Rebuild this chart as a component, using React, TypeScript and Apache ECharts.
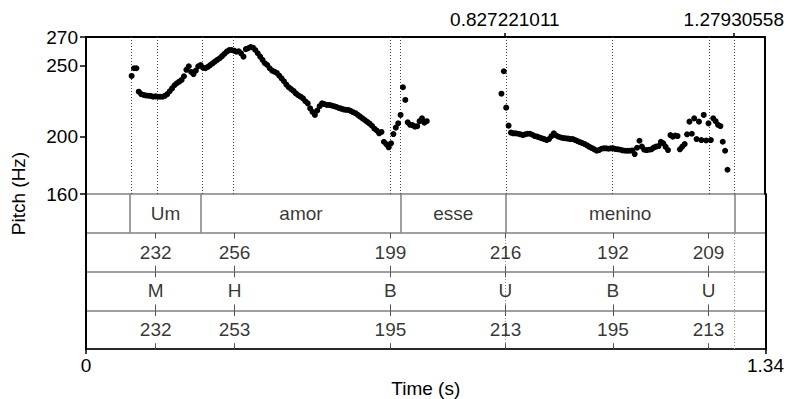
import React, { useEffect, useRef } from "react";
import * as echarts from "echarts";

// ---- data ----
const TIME_MIN = 0;
const TIME_MAX = 1.34;
const PITCH_MIN = 160;
const PITCH_MAX = 270;
const PITCH_TICKS = [160, 200, 250, 270];
const TIME_TICKS = [0, 1.34];
const SELECTION_TIMES = [0.827221011, 1.27930558];

// pitch frames (Praat analysis step)
const FRAME_STEP = 0.0047;
const SEG_A_START = 0.0901;
const SEG_A_HZ = [
  242.7, 248.1, 248.1, 231.7, 230.0, 229.4, 229.0, 228.9, 228.7, 228.2,
  228.4, 228.2, 228.2, 228.2, 228.8, 230.0, 232.0, 234.0, 236.2, 237.6,
  238.7, 239.9, 242.5, 247.0, 249.5, 245.5, 244.0, 246.5, 249.5, 250.4,
  248.5, 248.1, 249.0, 250.3, 251.5, 252.8, 254.0, 255.1, 256.6, 258.2,
  259.8, 260.8, 260.9, 260.4, 259.7, 260.0, 258.5, 256.2, 261.5, 262.1,
  263.0, 262.5, 260.9, 258.6, 256.3, 254.0, 251.6, 250.4, 248.1, 246.5,
  245.7, 244.8, 243.0, 241.0, 239.0, 236.7, 234.8, 233.5, 232.2, 230.5,
  229.2, 228.2, 227.0, 225.0, 223.5, 220.0, 217.5, 215.4, 218.5, 221.5,
  223.5, 223.0, 222.4, 222.4, 222.0, 221.5, 221.0, 220.3, 219.8, 219.3,
  219.0, 218.9, 218.2, 217.3, 216.6, 215.5, 214.2, 213.0, 211.8, 210.5,
  209.3, 207.8, 205.8, 204.5, 202.5, 203.5, 196.6, 195.0, 192.7, 195.5,
  202.0, 206.5, 209.5, 215.4, 234.8, 225.9, 210.2, 208.5, 208.3, 207.2,
  207.5, 211.0, 213.0, 210.0, 211.0,
];
const SEG_B_START = 0.8204;
const SEG_B_HZ = [
  230.3, 246.0, 220.5, 207.9, 203.0, 202.5, 202.5, 202.2, 201.8, 201.3,
  201.8, 202.2, 202.2, 201.5, 200.6, 200.2, 199.6, 199.0, 198.5, 197.8,
  198.5, 200.5, 202.5, 201.0, 200.1, 199.6, 199.2, 199.0, 198.8, 198.5,
  198.5, 197.8, 197.0, 196.3, 195.7, 195.0, 194.0, 193.0, 192.2, 191.3,
  190.3, 190.8, 191.7, 192.0, 192.0, 191.7, 192.0, 192.0, 191.5, 191.3,
  191.0, 190.5, 190.3, 190.3, 190.3, 190.5, 188.0, 192.4, 197.3, 193.2,
  191.0, 190.8, 191.0, 191.3, 192.5, 193.2, 193.6, 196.6, 195.5, 193.0,
  190.8, 201.3, 200.1, 201.0, 200.6, 191.3, 193.2, 195.0, 201.8, 210.7,
  202.2, 213.0, 198.5, 210.7, 197.8, 215.4, 197.5, 209.5, 197.8, 213.0,
  211.0, 208.5, 207.6, 196.6, 190.3, 177.0,
];

// TextGrid tier 1 (intervals)
const WORD_STARTS = [0.0867, 0.2266, 0.6213, 0.827221011];
const WORD_ENDS = [0.2266, 0.6213, 0.827221011, 1.27930558];
const WORD_LABELS = ["Um", "amor", "esse", "menino"];

// point tiers
const POINT_TIMES = [0.1374, 0.293, 0.6004, 0.827221011, 1.0391, 1.2277];
const TIER2_LABELS = ["232", "256", "199", "216", "192", "209"];
const TIER3_LABELS = ["M", "H", "B", "U", "B", "U"];
const TIER4_LABELS = ["232", "253", "195", "213", "195", "213"];

const FONT = '"Liberation Sans", Arial, Helvetica, sans-serif';
const FS = 19;

export default function App() {
  const ref = useRef<HTMLDivElement>(null);

  useEffect(() => {
    if (!ref.current) return;
    const chart = echarts.init(ref.current, undefined, { renderer: "svg" });

    const pitchData: number[][] = [];
    SEG_A_HZ.forEach((f, i) => pitchData.push([SEG_A_START + i * FRAME_STEP, f]));
    SEG_B_HZ.forEach((f, i) => pitchData.push([SEG_B_START + i * FRAME_STEP, f]));

    const boundarySet = Array.from(new Set([...WORD_STARTS, ...WORD_ENDS]));
    const pitchGuides = [...boundarySet, ...POINT_TIMES.filter((t) => !boundarySet.includes(t))];

    const dotted = { type: [1, 2] as any, width: 1, color: "#444" };
    const tierLines: any[] = [];
    boundarySet.forEach((t) => {
      tierLines.push([
        { coord: [t, 3], lineStyle: { type: "solid", color: "#808080", width: 1.5 } },
        { coord: [t, 4] },
      ]);
    });
    SELECTION_TIMES.forEach((t) => {
      tierLines.push([
        { coord: [t, 0], lineStyle: { type: [1, 2], color: "#999", width: 1 } },
        { coord: [t, 3] },
      ]);
    });
    const tickLen = 0.15;
    POINT_TIMES.forEach((t) => {
      [0, 1, 2].forEach((lo) => {
        tierLines.push([
          { coord: [t, lo], lineStyle: { type: "solid", color: "#555", width: 1 } },
          { coord: [t, lo + tickLen] },
        ]);
        tierLines.push([
          { coord: [t, lo + 1 - tickLen], lineStyle: { type: "solid", color: "#555", width: 1 } },
          { coord: [t, lo + 1] },
        ]);
      });
    });

    const labelData: any[] = [];
    WORD_LABELS.forEach((w, i) => {
      labelData.push({ value: [(WORD_STARTS[i] + WORD_ENDS[i]) / 2, 3.5], name: w });
    });
    POINT_TIMES.forEach((t, i) => {
      labelData.push({ value: [t, 2.5], name: TIER2_LABELS[i] });
      labelData.push({ value: [t, 1.5], name: TIER3_LABELS[i] });
      labelData.push({ value: [t, 0.5], name: TIER4_LABELS[i] });
    });

    const blackLine = (w: number) => ({ show: true, lineStyle: { color: "#000", width: w } });

    chart.setOption({
      animation: false,
      backgroundColor: "#fff",
      textStyle: { fontFamily: FONT },
      grid: [
        { left: 86, top: 37, width: 680, height: 157 },
        { left: 86, top: 194, width: 680, height: 156 },
      ],
      xAxis: [
        {
          gridIndex: 0,
          type: "value",
          min: TIME_MIN,
          max: TIME_MAX,
          position: "top",
          axisLine: blackLine(2),
          axisTick: {
            show: true,
            customValues: SELECTION_TIMES,
            length: 4,
            lineStyle: { color: "#000", width: 1.5 },
          },
          axisLabel: {
            show: true,
            customValues: SELECTION_TIMES,
            formatter: (v: number) => String(v),
            fontSize: FS,
            color: "#000",
            fontFamily: FONT,
            margin: 8,
          },
          splitLine: { show: false },
        },
        {
          gridIndex: 1,
          type: "value",
          min: TIME_MIN,
          max: TIME_MAX,
          position: "bottom",
          axisLine: blackLine(1.5),
          axisTick: {
            show: true,
            customValues: TIME_TICKS,
            length: 5,
            lineStyle: { color: "#000", width: 1.5 },
          },
          axisLabel: {
            show: true,
            customValues: TIME_TICKS,
            formatter: (v: number) => String(v),
            fontSize: FS,
            color: "#000",
            fontFamily: FONT,
            margin: 7,
          },
          splitLine: { show: false },
          name: "Time (s)",
          nameLocation: "middle",
          nameGap: 30,
          nameTextStyle: { fontSize: FS, color: "#000", fontFamily: FONT },
        },
      ],
      yAxis: [
        {
          gridIndex: 0,
          type: "value",
          min: PITCH_MIN,
          max: PITCH_MAX,
          axisLine: blackLine(2),
          axisTick: {
            show: true,
            customValues: PITCH_TICKS,
            length: 6,
            lineStyle: { color: "#000", width: 1.5 },
          },
          axisLabel: {
            show: true,
            customValues: PITCH_TICKS,
            fontSize: FS,
            color: "#000",
            fontFamily: FONT,
            margin: 8,
          },
          splitLine: { show: false },
        },
        {
          gridIndex: 1,
          type: "value",
          min: 0,
          max: 4,
          interval: 1,
          axisLine: blackLine(2),
          axisTick: { show: false },
          axisLabel: { show: false },
          splitLine: { show: true, lineStyle: { color: "#808080", width: 1.5 } },
        },
        {
          gridIndex: 0,
          type: "value",
          min: PITCH_MIN,
          max: PITCH_MAX,
          position: "right",
          axisLine: blackLine(2),
          axisTick: { show: false },
          axisLabel: { show: false },
          splitLine: { show: false },
        },
        {
          gridIndex: 1,
          type: "value",
          min: 0,
          max: 4,
          position: "right",
          axisLine: blackLine(2),
          axisTick: { show: false },
          axisLabel: { show: false },
          splitLine: { show: false },
        },
      ],
      series: [
        {
          type: "scatter",
          xAxisIndex: 0,
          yAxisIndex: 0,
          data: [],
          silent: true,
          markLine: {
            silent: true,
            symbol: ["none", "none"],
            label: { show: false },
            lineStyle: dotted,
            data: pitchGuides.map((t) => ({ xAxis: t })),
          },
        },
        {
          type: "scatter",
          xAxisIndex: 0,
          yAxisIndex: 0,
          symbolSize: 6,
          itemStyle: { color: "#000", opacity: 1 },
          data: pitchData,
          z: 5,
        },
        {
          type: "scatter",
          xAxisIndex: 1,
          yAxisIndex: 1,
          data: [],
          silent: true,
          markLine: {
            silent: true,
            symbol: ["none", "none"],
            label: { show: false },
            data: tierLines,
          },
        },
        {
          type: "scatter",
          xAxisIndex: 1,
          yAxisIndex: 1,
          symbolSize: 1,
          itemStyle: { color: "rgba(0,0,0,0)" },
          data: labelData,
          z: 6,
          label: {
            show: true,
            position: "inside",
            formatter: (p: any) => p.name,
            fontSize: FS,
            color: "#000",
            fontFamily: FONT,
          },
        },
      ],
      graphic: [
        {
          type: "text",
          x: 18,
          y: 193.5,
          rotation: Math.PI / 2,
          style: {
            text: "Pitch (Hz)",
            font: `${FS}px ${FONT}`,
            fill: "#000",
            textAlign: "center",
            textVerticalAlign: "middle",
          },
        },
      ],
    });

    return () => chart.dispose();
  }, []);

  return (
    <div
      ref={ref}
      style={{ position: "fixed", left: 0, top: 0, width: 787, height: 399, background: "#fff" }}
    />
  );
}
